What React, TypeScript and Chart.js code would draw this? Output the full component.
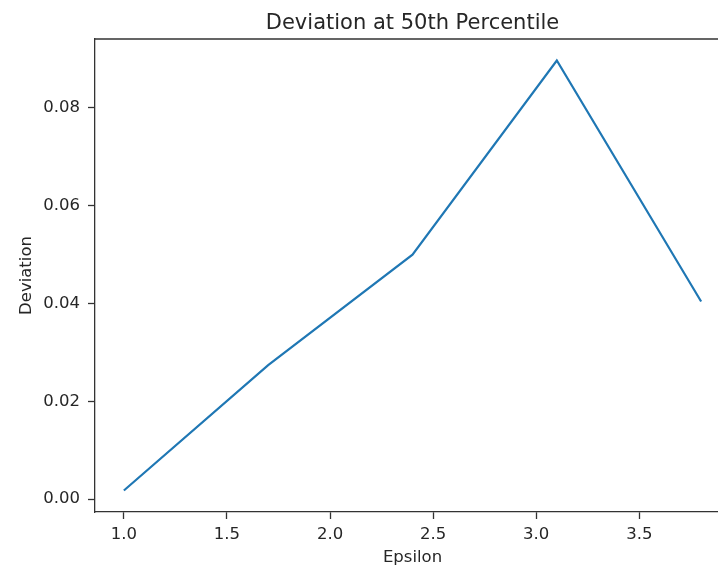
import React, { useEffect, useRef } from "react";
import { Chart, registerables } from "chart.js";

Chart.register(...registerables);

const epsilon = [1.0, 1.7, 2.4, 3.1, 3.8];
const deviation = [0.00175, 0.0274, 0.05, 0.0897, 0.0404];
const xTickStep = 0.5;
const yTickStep = 0.02;

const TEXT = "#262626";
const AXIS = "#333333";

const frame = {
  id: "frame",
  afterDraw(chart: any) {
    const { ctx, chartArea } = chart;
    ctx.save();
    ctx.strokeStyle = AXIS;
    ctx.lineWidth = 1.3;
    ctx.beginPath();
    ctx.moveTo(chartArea.left, chartArea.top);
    ctx.lineTo(chartArea.right, chartArea.top);
    ctx.lineTo(chartArea.right, chartArea.bottom);
    ctx.stroke();
    ctx.restore();
  },
};

export default function App() {
  const ref = useRef<HTMLCanvasElement>(null);
  useEffect(() => {
    if (!ref.current) return;
    const font = { family: "'DejaVu Sans', sans-serif", size: 16.5 };
    const chart = new Chart(ref.current, {
      type: "line",
      data: {
        datasets: [
          {
            data: epsilon.map((x, i) => ({ x, y: deviation[i] })),
            borderColor: "#1f77b4",
            borderWidth: 2.2,
            pointRadius: 0,
            fill: false,
            tension: 0,
          },
        ],
      },
      plugins: [frame],
      options: {
        responsive: false,
        animation: false,
        layout: { padding: { top: 0, left: 0, right: 30, bottom: 0 } },
        plugins: {
          legend: { display: false },
          tooltip: { enabled: false },
          title: {
            display: true,
            text: "Deviation at 50th Percentile",
            fullSize: false,
            color: TEXT,
            font: { family: "'DejaVu Sans', sans-serif", size: 21, weight: "normal" },
            padding: { top: 10.5, bottom: 3.3 },
          },
        },
        scales: {
          x: {
            type: "linear",
            min: 0.86,
            max: 3.94,
            afterFit: (s: any) => {
              s.height = 58;
            },
            ticks: {
              stepSize: xTickStep,
              includeBounds: false,
              color: TEXT,
              font,
              padding: 6,
              maxRotation: 0,
              callback: (v: any) => Number(v).toFixed(1),
            },
            grid: { display: true, drawOnChartArea: false, drawTicks: true, tickLength: 7, color: AXIS, tickWidth: 1.3 },
            border: { display: true, color: AXIS, width: 1.3 },
            title: { display: true, text: "Epsilon", color: TEXT, font, padding: { top: 0, bottom: 2 } },
          },
          y: {
            type: "linear",
            min: -0.00265,
            max: 0.0941,
            afterFit: (s: any) => {
              s.width = 95;
            },
            ticks: {
              stepSize: yTickStep,
              includeBounds: false,
              color: TEXT,
              font,
              padding: 8,
              callback: (v: any) => Number(v).toFixed(2),
            },
            grid: { display: true, drawOnChartArea: false, drawTicks: true, tickLength: 7, color: AXIS, tickWidth: 1.3 },
            border: { display: true, color: AXIS, width: 1.3 },
            title: { display: true, text: "Deviation", color: TEXT, font, padding: { top: 17, bottom: 0 } },
          },
        },
      },
    } as any);
    return () => chart.destroy();
  }, []);
  return (
    <div style={{ position: "fixed", left: 0, top: 0, width: 718, height: 570, overflow: "hidden", background: "#fff" }}>
      <canvas ref={ref} width={760} height={570} style={{ display: "block", width: 760, height: 570 }} />
    </div>
  );
}
